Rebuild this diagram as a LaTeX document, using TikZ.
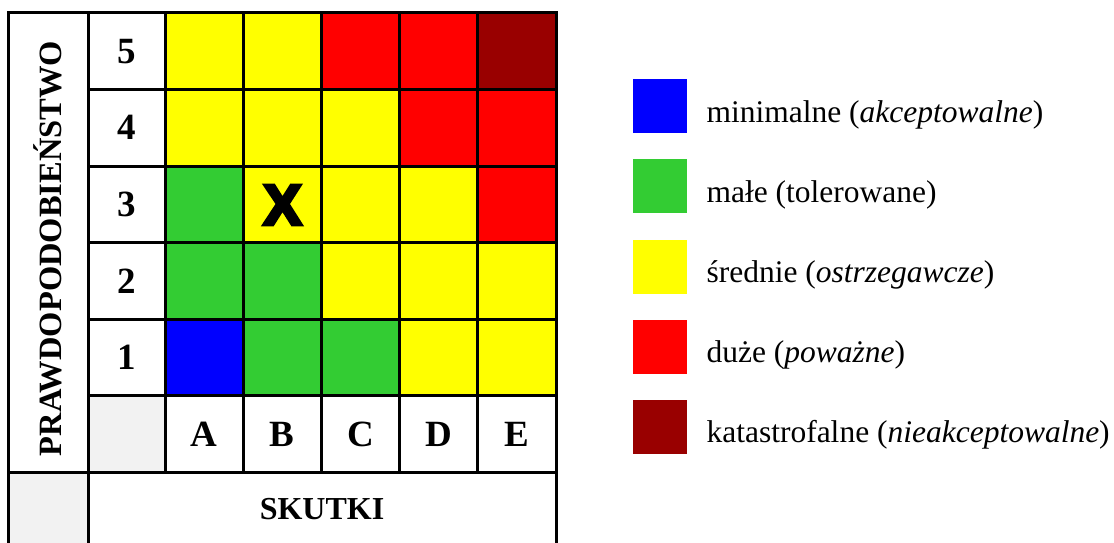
\documentclass[tikz,border=0pt]{standalone}
\usepackage{fontspec}
\setmainfont{Liberation Serif}
\newfontfamily\markfont[BoldFeatures={FakeBold=6}]{Liberation Sans}
\usetikzlibrary{positioning}
\definecolor{riskBlue}{HTML}{0000FF}
\definecolor{riskGreen}{HTML}{33CC33}
\definecolor{riskYellow}{HTML}{FFFF00}
\definecolor{riskRed}{HTML}{FF0000}
\definecolor{riskDark}{HTML}{990000}
\definecolor{riskGray}{HTML}{F2F2F2}

\begin{document}
\begin{tikzpicture}[x=1pt,y=-1pt,
    cell/.style={draw,line width=3pt},
    axis/.style={font=\fontsize{37}{37}\selectfont\bfseries},
    legbox/.style={rectangle,minimum size=54pt,inner sep=0pt,anchor=north west},
    legtext/.style={anchor=base west,font=\fontsize{31.5}{32}\selectfont}
  ]
    \useasboundingbox (0,0) rectangle (1114,543);

    % matrix, top row = 5
    \foreach \r/\row in {0/{riskYellow,riskYellow,riskRed,riskRed,riskDark},
                         1/{riskYellow,riskYellow,riskYellow,riskRed,riskRed},
                         2/{riskGreen,riskYellow,riskYellow,riskYellow,riskRed},
                         3/{riskGreen,riskGreen,riskYellow,riskYellow,riskYellow},
                         4/{riskBlue,riskGreen,riskGreen,riskYellow,riskYellow}}
      \foreach \c [count=\i from 0] in \row
        \filldraw[cell,fill=\c] (165+78.2*\i,12.8+76.6*\r) rectangle +(78.2,76.6);

    % axes
    \foreach \n [count=\r from 0] in {5,4,3,2,1} {
      \draw[cell] (88,12.8+76.6*\r) rectangle +(77,76.6);
      \node[axis] (p\n) at (126.5,51.1+76.6*\r) {\n};
    }
    \foreach \s [count=\i from 0] in {A,B,C,D,E} {
      \draw[cell] (165+78.2*\i,395.8) rectangle +(78.2,76.6);
      \node[axis] (s\s) at (204.1+78.2*\i,434.1) {\s};
    }
    \filldraw[cell,fill=riskGray] (88,395.8) rectangle (165,472.4);
    \draw[cell] (8,12.8) rectangle (88,472.4);
    \filldraw[cell,fill=riskGray] (8,472.4) rectangle (88,546);
    \draw[cell] (88,472.4) rectangle (556,546);

    \node[axis,font=\fontsize{32.5}{32}\selectfont\bfseries,rotate=90] (prob) at (48,248.6) {PRAWDOPODOBIEŃSTWO};
    \node[axis,font=\fontsize{32}{32}\selectfont\bfseries] (skutki) at (322,509) {SKUTKI};
    \node[font=\markfont\bfseries\fontsize{57}{57}\selectfont,inner sep=0pt] (mark) at (282.5,205) {X};

    % legend
    \foreach \c/\t [count=\i from 0] in {riskBlue/{minimalne (\textit{akceptowalne})},
                                        riskGreen/{małe (tolerowane)},
                                        riskYellow/{średnie (\textit{ostrzegawcze})},
                                        riskRed/{duże (\textit{poważne})},
                                        riskDark/{katastrofalne (\textit{nieakceptowalne})}} {
      \node[legbox,fill=\c] (box\i) at (633,79+80.2*\i) {};
      \node[legtext] (lab\i) at (703,122+80.2*\i) {\t};
    }

\end{tikzpicture}
\end{document}
